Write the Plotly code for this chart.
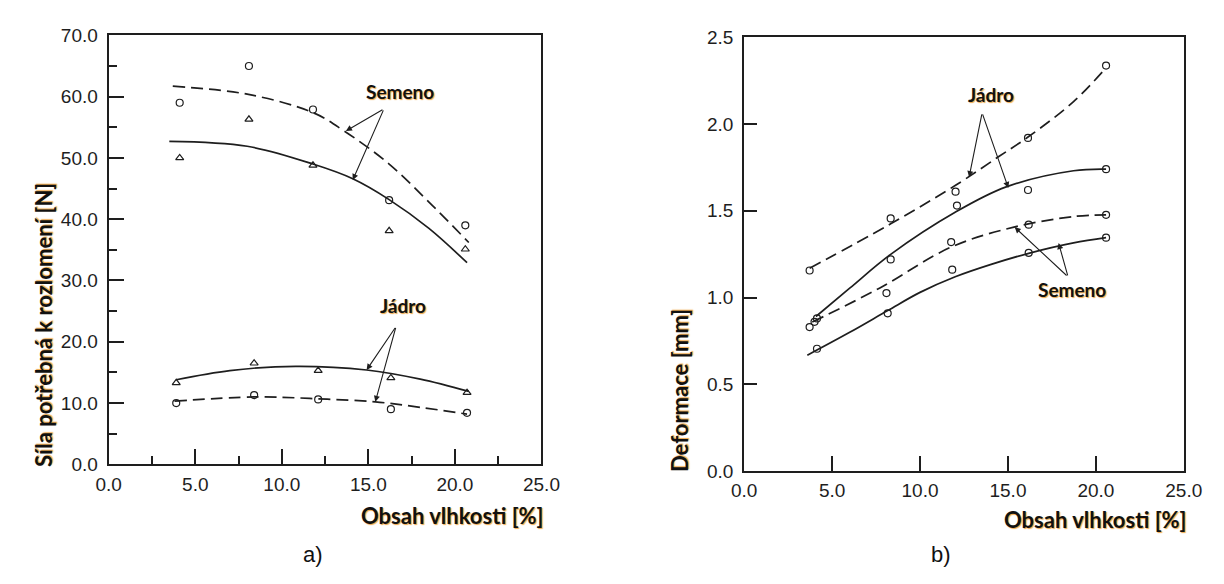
import plotly.graph_objects as go

# ---------------- Panel a) : breaking force ----------------
moist_a = [4.1, 8.1, 11.8, 16.2, 20.6]
seed_force_circ = [59.0, 65.0, 57.9, 43.1, 39.0]      # Semeno, circles
seed_force_tri = [50.0, 56.3, 48.8, 38.1, 35.1]       # Semeno, triangles
kernel_force_tri = [13.3, 16.5, 15.3, 14.1, 11.7]     # Jadro, triangles
kernel_force_circ = [10.0, 11.3, 10.6, 9.0, 8.4]      # Jadro, circles
moist_kernel_a = [3.9, 8.4, 12.1, 16.3, 20.7]

# fitted curves
seed_dash_x = [3.7, 8.0, 11.8, 13.6, 16.2, 18.5, 20.8]
seed_dash_y = [61.7, 60.4, 57.4, 54.4, 49.0, 42.8, 36.2]
seed_solid_x = [3.5, 8.0, 11.8, 14.1, 16.2, 18.5, 20.7]
seed_solid_y = [52.7, 51.9, 49.0, 46.6, 43.2, 38.5, 32.9]
kern_solid_x = [3.9, 7.0, 10.8, 14.9, 18.0, 20.8]
kern_solid_y = [13.8, 15.3, 16.0, 15.4, 13.9, 11.9]
kern_dash_x = [3.8, 8.4, 12.05, 15.4, 18.0, 20.7]
kern_dash_y = [10.3, 11.0, 10.7, 10.2, 9.3, 8.2]

# ---------------- Panel b) : deformation ----------------
kern_def_dash_pts_x = [3.72, 8.33, 12.02, 16.14, 20.58]
kern_def_dash_pts_y = [1.156, 1.456, 1.61, 1.92, 2.337]
kern_def_solid_pts_x = [4.14, 8.33, 12.1, 16.14, 20.58]
kern_def_solid_pts_y = [0.88, 1.22, 1.53, 1.62, 1.74]
seed_def_dash_pts_x = [3.72, 4.0, 8.09, 11.77, 16.18, 20.58]
seed_def_dash_pts_y = [0.83, 0.86, 1.026, 1.32, 1.42, 1.477]
seed_def_solid_pts_x = [4.14, 8.16, 11.83, 16.18, 20.58]
seed_def_solid_pts_y = [0.705, 0.909, 1.161, 1.258, 1.345]

kern_def_dash_x = [3.72, 8.33, 12.02, 14.5, 16.14, 18.73, 20.58]
kern_def_dash_y = [1.169, 1.425, 1.647, 1.814, 1.925, 2.129, 2.324]
kern_def_solid_x = [4.08, 6.0, 8.33, 12.02, 14.9, 18.73, 20.58]
kern_def_solid_y = [0.891, 1.054, 1.249, 1.493, 1.638, 1.731, 1.74]
seed_def_dash_x = [3.87, 7.69, 11.77, 15.34, 18.73, 20.58]
seed_def_dash_y = [0.859, 1.054, 1.291, 1.406, 1.467, 1.477]
seed_def_solid_x = [3.59, 6.0, 8.16, 10.0, 12.0, 14.0, 16.18, 18.73, 20.58]
seed_def_solid_y = [0.668, 0.80, 0.925, 1.03, 1.12, 1.19, 1.255, 1.315, 1.345]

x_ticks = [0, 5, 10, 15, 20, 25]
ya_ticks = [0, 10, 20, 30, 40, 50, 60, 70]
yb_ticks = [0, 0.5, 1.0, 1.5, 2.0, 2.5]

INK = "#1e1e1e"
DASH = "12px,6px"
TICKFONT = dict(family="Liberation Sans, Arial, sans-serif", size=19, color="#1e1e1e")
LABFONT = dict(family="Lato, Open Sans, sans-serif", size=19, color="#111111",
               weight="bold", shadow="1px 1px 1px rgba(235,150,40,0.85)")
TITLEFONT = dict(LABFONT, size=22)

fig = go.Figure()

def line(x, y, dash, xa, ya):
    fig.add_trace(go.Scatter(x=x, y=y, mode="lines", xaxis=xa, yaxis=ya,
                             line=dict(color=INK, width=1.7, dash=dash, shape="spline", smoothing=1.0),
                             showlegend=False, hoverinfo="skip"))

def marks(x, y, sym, xa, ya):
    fig.add_trace(go.Scatter(x=x, y=y, mode="markers", xaxis=xa, yaxis=ya,
                             marker=dict(symbol=sym, size=7, color=INK,
                                         line=dict(color=INK, width=1.2)),
                             showlegend=False))

# panel a
line(seed_dash_x, seed_dash_y, DASH, "x", "y")
line(seed_solid_x, seed_solid_y, "solid", "x", "y")
line(kern_solid_x, kern_solid_y, "solid", "x", "y")
line(kern_dash_x, kern_dash_y, DASH, "x", "y")
marks(moist_a, seed_force_circ, "circle-open", "x", "y")
marks(moist_a, seed_force_tri, "triangle-up-open", "x", "y")
marks(moist_kernel_a, kernel_force_tri, "triangle-up-open", "x", "y")
marks(moist_kernel_a, kernel_force_circ, "circle-open", "x", "y")

# panel b
line(kern_def_dash_x, kern_def_dash_y, DASH, "x2", "y2")
line(kern_def_solid_x, kern_def_solid_y, "solid", "x2", "y2")
line(seed_def_dash_x, seed_def_dash_y, DASH, "x2", "y2")
line(seed_def_solid_x, seed_def_solid_y, "solid", "x2", "y2")
marks(kern_def_dash_pts_x, kern_def_dash_pts_y, "circle-open", "x2", "y2")
marks(kern_def_solid_pts_x, kern_def_solid_pts_y, "circle-open", "x2", "y2")
marks(seed_def_dash_pts_x, seed_def_dash_pts_y, "circle-open", "x2", "y2")
marks(seed_def_solid_pts_x, seed_def_solid_pts_y, "circle-open", "x2", "y2")

W, H = 1224, 584
def dom_x(a, b):
    return [a / W, b / W]
def dom_y(top, bot):
    return [(H - bot) / H, (H - top) / H]

axis_common = dict(showline=True, mirror=True, linecolor=INK, linewidth=2.2,
                   ticks="inside", tickcolor=INK, tickwidth=1.6, showgrid=False,
                   zeroline=False, tickfont=TICKFONT, tickformat=".1f")

fig.update_layout(
    width=W, height=H, margin=dict(l=0, r=0, t=0, b=0),
    paper_bgcolor="white", plot_bgcolor="white",
    xaxis=dict(domain=dom_x(90, 534), range=[0, 25], tickvals=x_ticks, ticklen=15,
               minor=dict(ticks="inside", ticklen=8, dtick=2.5, tickcolor=INK, tickwidth=1.6),
               anchor="y", ticklabelstandoff=2, **axis_common),
    yaxis=dict(domain=dom_y(18, 463), range=[0, 70], tickvals=ya_ticks, ticklen=15,
               minor=dict(ticks="inside", ticklen=8, dtick=5, tickcolor=INK, tickwidth=1.6),
               anchor="x", ticklabelstandoff=5, **axis_common),
    xaxis2=dict(domain=dom_x(742, 1193), range=[0, 25], tickvals=x_ticks, ticklen=15,
                anchor="y2", ticklabelstandoff=1, **axis_common),
    yaxis2=dict(domain=dom_y(20, 470), range=[0, 2.5], tickvals=yb_ticks, ticklen=13,
                anchor="x2", ticklabelstandoff=5, **axis_common),
)

ann = []
def arrow(xr, yr, tail, head):
    ann.append(dict(xref=xr, yref=yr, axref=xr, ayref=yr, x=head[0], y=head[1],
                    ax=tail[0], ay=tail[1], text="", showarrow=True, arrowhead=2,
                    arrowsize=1.1, arrowwidth=1.1, arrowcolor=INK, standoff=0, startstandoff=0))

def label(xr, yr, x, y, t):
    ann.append(dict(xref=xr, yref=yr, x=x, y=y, text=t, showarrow=False, font=LABFONT,
                    xanchor="center", yanchor="middle"))

# panel a annotations
label("x", "y", 16.8, 60.9, "Semeno")
arrow("x", "y", (15.9, 58.0), (13.7, 54.4))
arrow("x", "y", (15.9, 58.0), (14.1, 46.4))
label("x", "y", 17.0, 26.0, "Jádro")
arrow("x", "y", (16.6, 22.5), (14.9, 15.4))
arrow("x", "y", (16.6, 22.5), (15.4, 10.2))

# panel b annotations
label("x2", "y2", 14.06, 2.172, "Jádro")
arrow("x2", "y2", (13.53, 2.064), (12.79, 1.694))
arrow("x2", "y2", (13.53, 2.064), (15.02, 1.632))
label("x2", "y2", 18.63, 1.045, "Semeno")
arrow("x2", "y2", (18.42, 1.119), (15.38, 1.406))
arrow("x2", "y2", (18.42, 1.119), (17.88, 1.314))

# axis titles (paper coordinates)
def ptext(x, y, t, font, xanchor="center", angle=0):
    ann.append(dict(xref="paper", yref="paper", x=x / W, y=(H - y) / H, text=t,
                    showarrow=False, font=font, xanchor=xanchor, yanchor="middle",
                    textangle=angle))

ptext(538, 516, "Obsah vlhkosti [%]", TITLEFONT, xanchor="right")
ptext(1197, 520, "Obsah vlhkosti [%]", TITLEFONT, xanchor="right")
ptext(23, 318, "Síla potřebná k rozlomení [N]", TITLEFONT, angle=-90)
ptext(675, 386, "Deformace [mm]", TITLEFONT, angle=-90)

PANELFONT = dict(family="Liberation Sans, Arial, sans-serif", size=22, color="#111111")
ptext(300, 556, "a)", PANELFONT)
ptext(944, 556, "b)", PANELFONT)

fig.update_layout(annotations=ann)
fig.write_html("out.html")
